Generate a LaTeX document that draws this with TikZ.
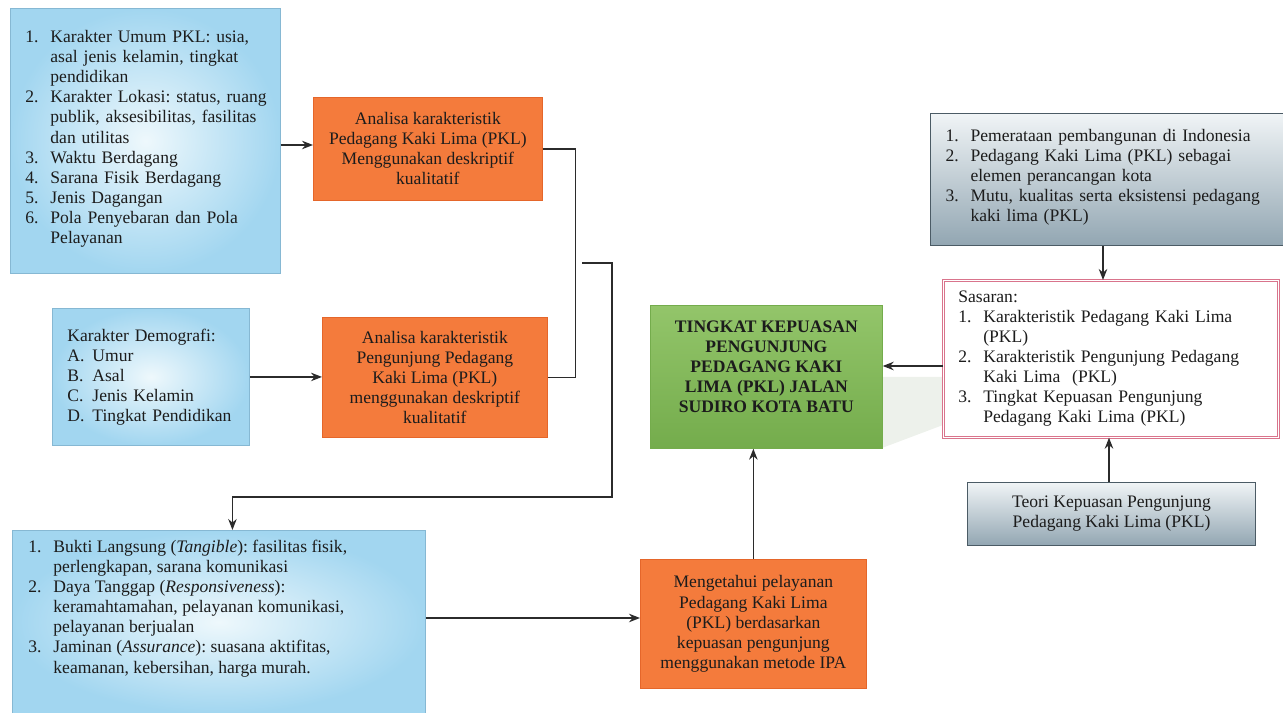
\documentclass[tikz,border=0pt]{standalone}
\usepackage{fontspec}
\setmainfont{Liberation Serif}
\usepackage{xcolor}
\usetikzlibrary{arrows.meta,positioning,calc}
\definecolor{ink}{HTML}{1C1C1C}
\definecolor{linkgray}{HTML}{2B2B2B}
\definecolor{skypale}{HTML}{EEF8FC}
\definecolor{skyedge}{HTML}{A2D6F0}
\definecolor{skyline}{HTML}{86B8D3}
\definecolor{orangebox}{HTML}{F47B3C}
\definecolor{orangeedge}{HTML}{E5662A}
\definecolor{greentop}{HTML}{93C56A}
\definecolor{greenbot}{HTML}{74AC4C}
\definecolor{slatetop}{HTML}{F0F4F6}
\definecolor{slatebot}{HTML}{92A6B2}
\definecolor{slateline}{HTML}{4B5B65}
\definecolor{pinkline}{HTML}{D9748C}
\definecolor{shadowgray}{HTML}{EDF1EB}
\newcommand{\itemno}[1]{\makebox[5mm][l]{#1}}
\newcommand{\itemgap}{\hspace*{5mm}}
\frenchspacing
\tikzset{
  >={Stealth[length=2.2mm,width=1.7mm]},
  boxfont/.style={font=\fontsize{10}{11.4}\selectfont,text=ink},
  bluebox/.style={boxfont,shade,inner color=skypale,outer color=skyedge,draw=skyline,line width=.5pt,
    anchor=north west,align=left,inner xsep=3mm},
  orangebox/.style={boxfont,fill=orangebox,draw=orangeedge,line width=.4pt,anchor=north west,align=center},
  goalbox/.style={boxfont,font=\fontsize{10}{11.4}\selectfont\bfseries,top color=greentop,bottom color=greenbot,
    draw=greenbot,line width=.4pt,anchor=north west,align=center},
  slatebox/.style={boxfont,top color=slatetop,bottom color=slatebot,draw=slateline,line width=.6pt,anchor=north west},
  flow/.style={->,line width=.75pt,draw=linkgray},
  joint/.style={line width=.75pt,draw=linkgray},
}
\begin{document}
\begin{tikzpicture}[x=0.2mm,y=-0.2mm]
  \useasboundingbox (0,0) rectangle (1283,713);

  % left column
  \node[bluebox,minimum width=5.4cm,minimum height=5.3cm,text width=4.8cm] (karakterPKL) at (10,8)
    {\itemno{1.}Karakter Umum PKL: usia,\\
     \itemgap asal jenis kelamin, tingkat\\
     \itemgap pendidikan\\
     \mbox{\itemno{2.}Karakter Lokasi: status, ruang}\\
     \itemgap publik, aksesibilitas, fasilitas\\
     \itemgap dan utilitas\\
     \itemno{3.}Waktu Berdagang\\
     \itemno{4.}Sarana Fisik Berdagang\\
     \itemno{5.}Jenis Dagangan\\
     \itemno{6.}Pola Penyebaran dan Pola\\
     \itemgap Pelayanan\\[-2.4mm] \mbox{}};

  \node[bluebox,minimum width=3.94cm,minimum height=2.74cm,text width=3.34cm] (karakterDemo) at (52,308)
    {Karakter Demografi:\\
     \itemno{A.}Umur\\
     \itemno{B.}Asal\\
     \itemno{C.}Jenis Kelamin\\
     \itemno{D.}Tingkat Pendidikan};

  \node[bluebox,inner xsep=3.2mm,inner ysep=2mm] (dimensiLayanan) at (12,530)
    {\parbox[t][3.26cm][t]{7.62cm}{\raggedright
     \itemno{1.}Bukti Langsung (\textit{Tangible}): fasilitas fisik,\\
     \itemgap perlengkapan, sarana komunikasi\\
     \itemno{2.}Daya Tanggap (\textit{Responsiveness}):\\
     \itemgap keramahtamahan, pelayanan komunikasi,\\
     \itemgap pelayanan berjualan\\
     \itemno{3.}Jaminan (\textit{Assurance}): suasana aktifitas,\\
     \itemgap keamanan, kebersihan, harga murah.}};

  % analysis boxes
  \node[orangebox,minimum width=4.58cm,minimum height=2.06cm] (analisaPKL) at (313,97)
    {Analisa karakteristik\\Pedagang Kaki Lima (PKL)\\Menggunakan deskriptif\\kualitatif};
  \node[orangebox,minimum width=4.5cm,minimum height=2.4cm] (analisaPengunjung) at (322,317)
    {Analisa karakteristik\\Pengunjung Pedagang\\Kaki Lima (PKL)\\menggunakan deskriptif\\kualitatif};
  \node[orangebox,minimum width=4.52cm,minimum height=2.58cm] (analisaIPA) at (640,559)
    {Mengetahui pelayanan\\Pedagang Kaki Lima\\(PKL) berdasarkan\\kepuasan pengunjung\\menggunakan metode IPA};

  % faint shadow between goal and targets
  \fill[shadowgray] (882,377) -- (943,377) -- (943,425) -- (882,448) -- cycle;

  \node[goalbox,minimum width=4.64cm,minimum height=2.86cm] (tujuan) at (650,305)
    {TINGKAT KEPUASAN\\PENGUNJUNG\\PEDAGANG KAKI\\LIMA (PKL) JALAN\\SUDIRO KOTA BATU\\ \mbox{}};

  % right column
  \node[slatebox,minimum width=7.06cm,minimum height=2.64cm,text width=6.46cm,inner xsep=3mm,align=left] (latarBelakang) at (930,113)
    {\itemno{1.}Pemerataan pembangunan di Indonesia\\
     \itemno{2.}Pedagang Kaki Lima (PKL) sebagai\\
     \itemgap elemen perancangan kota\\
     \itemno{3.}Mutu, kualitas serta eksistensi pedagang\\
     \itemgap kaki lima (PKL)\\[-2.4mm] \mbox{}};

  \node[boxfont,fill=white,draw=pinkline,double=white,double distance=.9pt,line width=.4pt,anchor=north west,
    minimum width=6.7cm,minimum height=3.14cm,text width=6.1cm,inner xsep=3mm,align=left] (sasaran) at (943,280)
    {Sasaran:\\
     \itemno{1.}Karakteristik Pedagang Kaki Lima\\
     \itemgap (PKL)\\
     \itemno{2.}Karakteristik Pengunjung Pedagang\\
     \itemgap Kaki Lima~ (PKL)\\
     \itemno{3.}Tingkat Kepuasan Pengunjung\\
     \itemgap Pedagang Kaki Lima (PKL)};

  \node[slatebox,minimum width=5.76cm,minimum height=1.26cm,align=center] (teori) at (967,482)
    {Teori Kepuasan Pengunjung\\Pedagang Kaki Lima (PKL)};

  % connectors
  \draw[flow] (karakterPKL.east |- 0,145) -- (analisaPKL.west |- 0,145);
  \draw[flow] (karakterDemo.east) -- (analisaPengunjung.west |- karakterDemo.east);
  \draw[joint] (analisaPKL.east) -- ++(33,0) coordinate (kurung) |- (analisaPengunjung.east);
  \coordinate (gabung) at (582,263);
  \draw[flow] (gabung) -- ++(30,0) -- ++(0,234) -| ([xshift=2.7mm]dimensiLayanan.north);
  \draw[flow] (dimensiLayanan.east |- 0,618) -- (analisaIPA.west |- 0,618);
  \draw[flow] (analisaIPA.north) -- (analisaIPA.north |- tujuan.south);
  \draw[flow] (sasaran.west |- 0,366) -- (tujuan.east |- 0,366);
  \draw[flow] (latarBelakang.south -| 1103,0) -- (sasaran.north -| 1103,0);
  \draw[flow] (teori.north -| 1109,0) -- (sasaran.south -| 1109,0);
\end{tikzpicture}
\end{document}
